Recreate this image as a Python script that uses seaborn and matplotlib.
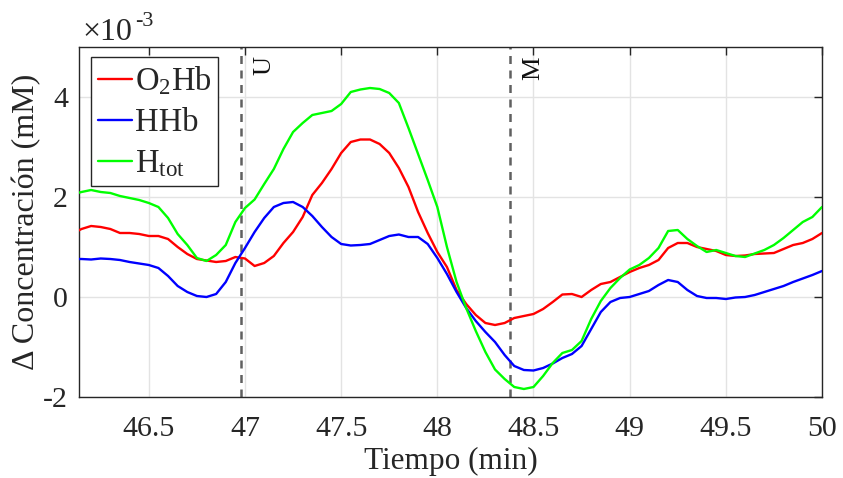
import numpy as np
import pandas as pd
import matplotlib
matplotlib.use("Agg")
import matplotlib.pyplot as plt
import seaborn as sns

# ---------------- data (values in units of 1e-3 mM) ----------------
time_min = [46.13, 46.15, 46.20, 46.25, 46.30, 46.35, 46.40, 46.45, 46.50, 46.55,
            46.60, 46.65, 46.70, 46.75, 46.80, 46.85, 46.90, 46.95, 47.00, 47.05,
            47.10, 47.15, 47.20, 47.25, 47.30, 47.35, 47.40, 47.45, 47.50, 47.55,
            47.60, 47.65, 47.70, 47.75, 47.80, 47.85, 47.90, 47.95, 48.00, 48.05,
            48.10, 48.15, 48.20, 48.25, 48.30, 48.35, 48.40, 48.45, 48.50, 48.55,
            48.60, 48.65, 48.70, 48.75, 48.80, 48.85, 48.90, 48.95, 49.00, 49.05,
            49.10, 49.15, 49.20, 49.25, 49.30, 49.35, 49.40, 49.45, 49.50, 49.55,
            49.60, 49.65, 49.70, 49.75, 49.80, 49.85, 49.90, 49.95, 50.00]

o2hb = [1.32, 1.36, 1.42, 1.40, 1.36, 1.28, 1.28, 1.26, 1.22, 1.22,
        1.16, 1.00, 0.86, 0.76, 0.73, 0.70, 0.72, 0.80, 0.77, 0.62,
        0.68, 0.82, 1.08, 1.30, 1.60, 2.04, 2.28, 2.56, 2.88, 3.10,
        3.15, 3.15, 3.06, 2.88, 2.58, 2.20, 1.70, 1.28, 0.90, 0.60,
        0.14, -0.14, -0.36, -0.52, -0.56, -0.52, -0.42, -0.38, -0.34, -0.24,
        -0.10, 0.05, 0.06, 0.00, 0.14, 0.26, 0.30, 0.40, 0.50, 0.58,
        0.64, 0.74, 0.98, 1.08, 1.08, 1.00, 0.96, 0.92, 0.84, 0.82,
        0.83, 0.86, 0.87, 0.88, 0.96, 1.04, 1.08, 1.16, 1.28]

hhb = [0.76, 0.76, 0.75, 0.77, 0.76, 0.74, 0.70, 0.67, 0.64, 0.58,
       0.42, 0.22, 0.10, 0.02, 0.00, 0.06, 0.30, 0.68, 0.98, 1.30,
       1.58, 1.80, 1.88, 1.90, 1.80, 1.62, 1.40, 1.20, 1.06, 1.03,
       1.04, 1.06, 1.14, 1.22, 1.25, 1.20, 1.20, 1.06, 0.78, 0.46,
       0.10, -0.22, -0.48, -0.70, -0.90, -1.16, -1.38, -1.46, -1.47, -1.42,
       -1.33, -1.22, -1.14, -0.98, -0.64, -0.30, -0.10, -0.02, 0.00, 0.06,
       0.12, 0.24, 0.34, 0.30, 0.14, 0.02, -0.02, -0.02, -0.04, -0.01,
       0.00, 0.04, 0.10, 0.16, 0.22, 0.30, 0.37, 0.44, 0.52]

htot = [2.08, 2.10, 2.14, 2.10, 2.08, 2.02, 1.98, 1.94, 1.88, 1.80,
        1.58, 1.26, 1.04, 0.78, 0.72, 0.84, 1.04, 1.50, 1.78, 1.95,
        2.26, 2.56, 2.96, 3.30, 3.48, 3.64, 3.68, 3.72, 3.86, 4.10,
        4.15, 4.18, 4.16, 4.08, 3.88, 3.38, 2.86, 2.34, 1.80, 1.00,
        0.30, -0.22, -0.68, -1.10, -1.45, -1.64, -1.80, -1.84, -1.80, -1.58,
        -1.32, -1.12, -1.06, -0.88, -0.44, -0.08, 0.18, 0.38, 0.55, 0.64,
        0.78, 0.98, 1.32, 1.34, 1.16, 1.02, 0.90, 0.94, 0.88, 0.82,
        0.80, 0.87, 0.94, 1.04, 1.18, 1.34, 1.50, 1.60, 1.80]

series_names = ["O$_2$Hb", "HHb", "H$_{\\rm tot}$"]
series_colors = ["#ff0000", "#0000ff", "#00ff00"]

event_times = [46.98, 48.38]
event_labels = ["U", "M"]

x_ticks = [46.5, 47, 47.5, 48, 48.5, 49, 49.5, 50]
x_tick_labels = ["46.5", "47", "47.5", "48", "48.5", "49", "49.5", "50"]
y_ticks = [-2, 0, 2, 4]
y_tick_labels = ["-2", "0", "2", "4"]

# ---------------- style ----------------
sns.set_theme(style="white")
plt.rcParams["font.family"] = ["Liberation Serif", "DejaVu Serif"]
plt.rcParams["mathtext.fontset"] = "custom"
plt.rcParams["mathtext.rm"] = "Liberation Serif"
plt.rcParams["mathtext.it"] = "Liberation Serif:italic"
plt.rcParams["axes.unicode_minus"] = False

df = pd.DataFrame({
    "t": time_min * 3,
    "v": o2hb + hhb + htot,
    "s": [series_names[0]] * len(time_min) + [series_names[1]] * len(time_min)
         + [series_names[2]] * len(time_min),
})

fig = plt.figure(figsize=(8.43, 4.78), dpi=100)
ax = fig.add_axes([79 / 843, 1 - 397 / 478, (822 - 79) / 843, (397 - 47) / 478])

ax.grid(True, color="#e3e3e3", linewidth=1.0, zorder=0)
ax.set_axisbelow(True)

sns.lineplot(data=df, x="t", y="v", hue="s", hue_order=series_names,
             palette=dict(zip(series_names, series_colors)), linewidth=1.7,
             ax=ax, legend=False, zorder=3)

for t, lab in zip(event_times, event_labels):
    ax.axvline(t, color="#606060", linestyle=(0, (3.2, 2.6)), linewidth=1.8, zorder=2)
    ax.text(t + 0.12, 4.82, lab, rotation=90, ha="center", va="top",
            fontsize=19, color="#111111")

ax.set_xlim(46.137, 50.0)
ax.set_ylim(-2, 5)
ax.set_xticks(x_ticks)
ax.set_xticklabels(x_tick_labels)
ax.set_yticks(y_ticks)
ax.set_yticklabels(y_tick_labels)
ax.tick_params(direction="in", length=6, width=1, color="#262626",
               top=True, right=True, labelsize=21.5, labelcolor="#262626")
ax.tick_params(axis="x", pad=14)
ax.tick_params(axis="y", pad=8)
for sp in ax.spines.values():
    sp.set_color("#262626")
    sp.set_linewidth(1.0)

ax.set_xlabel("Tiempo (min)", fontsize=22.5, color="#262626", labelpad=3)
ax.set_ylabel("Δ Concentración (mM)", fontsize=23, color="#262626", labelpad=1)

handles = [plt.Line2D([], [], color=c, linewidth=1.7) for c in series_colors]
leg = ax.legend(handles, series_names, loc="upper left",
                bbox_to_anchor=(11.5 / 743, 1 - 10 / 350), borderaxespad=0,
                fontsize=23.5, handlelength=1.05, handletextpad=0.08,
                labelspacing=0.32, borderpad=0.22, fancybox=False,
                framealpha=1, edgecolor="#262626")
leg.get_frame().set_linewidth(1.0)
for txt in leg.get_texts():
    txt.set_color("#262626")

fig.text(82 / 843, 1 - 40 / 478, "×10", fontsize=23, color="#262626",
         ha="left", va="baseline")
fig.text(135 / 843, 1 - 26 / 478, "-3", fontsize=16, color="#262626",
         ha="left", va="baseline")

fig.savefig("out.png", dpi=100)
